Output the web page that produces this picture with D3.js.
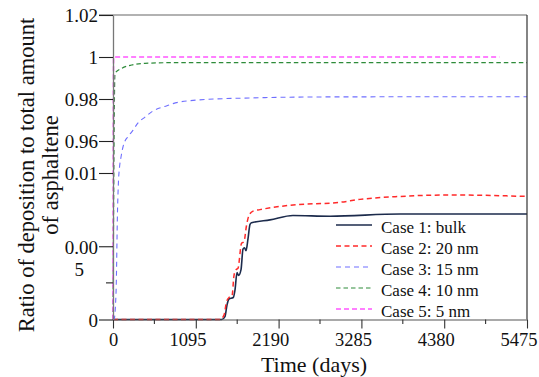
<!DOCTYPE html>
<html>
<head>
<meta charset="utf-8">
<script src="https://d3js.org/d3.v7.min.js"></script>
<style>
  body { margin: 0; background: #fff; }
</style>
</head>
<body>
<svg width="539" height="377" font-family="'Liberation Serif', 'DejaVu Serif', serif"></svg>
<script>
// axis ticks
var xTicks = [0, 1095, 2190, 3285, 4380, 5475];
var xMinor = [547.5, 1642.5, 2737.5, 3832.5, 4927.5];
var yTicks = [0, 0.005, 0.01, 0.96, 0.98, 1, 1.02];
var yTickLabels = ["0", "0.00|5", "0.01", "0.96", "0.98", "1", "1.02"];
var yMinor = [0.0025];

// series (time in days, ratio)
var case1T = [0, 1437, 1481, 1508, 1534, 1591, 1613, 1640, 1660, 1693, 1719, 1739, 1759, 1785, 1812, 1832, 2076, 2380, 2870, 3796, 5475];
var case1V = [0, 0, 0.0002, 0.0010, 0.0014, 0.0015, 0.0020, 0.0032, 0.0030, 0.0034, 0.0048, 0.0049, 0.0047, 0.0055, 0.0065, 0.0066, 0.0068, 0.0071, 0.00705, 0.0072, 0.0072];

var case2T = [0, 1415, 1468, 1501, 1534, 1574, 1600, 1627, 1653, 1700, 1732, 1765, 1798, 1852, 1944, 2341, 3002, 3267, 3796, 4457, 5475];
var case2V = [0, 0, 0.0003, 0.0012, 0.0015, 0.0016, 0.0030, 0.0034, 0.0035, 0.0052, 0.0053, 0.0064, 0.0071, 0.0074, 0.0075, 0.0078, 0.0080, 0.0082, 0.0084, 0.0085, 0.0084];

var case3T = [0, 13, 40, 60, 73, 86, 106, 132, 159, 198, 265, 331, 423, 516, 714, 794, 1111, 1812, 2870, 5475];
var case3V = [0, 0, 0.0018, 0.0075, 0.0095, 0.178, 0.485, 0.782, 0.96, 0.962, 0.9652, 0.9686, 0.9714, 0.974, 0.9768, 0.9778, 0.9795, 0.9805, 0.981, 0.9811];

var case4T = [0, 26, 115, 247, 423, 794, 5475];
var case4V = [0, 0.9922, 0.9946, 0.9962, 0.9970, 0.9973, 0.9973];

var case5T = [0, 8, 5110];
var case5V = [0, 1, 1];

var names = ["Case 1: bulk", "Case 2: 20 nm", "Case 3: 15 nm", "Case 4: 10 nm", "Case 5: 5 nm"];

var FONT = "'Liberation Serif', 'DejaVu Serif', serif";

var svg = d3.select("svg");

var x = d3.scaleLinear().domain([0, 5475]).range([113, 527]);
// broken axis: 0..0.01 stretched, 0.01..0.96 squeezed
var y = d3.scaleLinear().domain([0, 0.01, 0.96, 1.02]).range([319.5, 173, 141, 15]);

var series = [
  {t: case1T, v: case1V, color: "#1c2b4c", width: 1.6, dash: null},
  {t: case2T, v: case2V, color: "#ff2a2a", width: 1.5, dash: "5,3.5"},
  {t: case3T, v: case3V, color: "#6f6fff", width: 1.1, dash: "5,4"},
  {t: case4T, v: case4V, color: "#2e8b3a", width: 1.2, dash: "4.5,3"},
  {t: case5T, v: case5V, color: "#ff55ff", width: 1.6, dash: "5,3"}
];

var line = d3.line()
    .x(function(d) { return x(d[0]); })
    .y(function(d) { return y(d[1]); })
    .curve(d3.curveMonotoneX);

series.forEach(function(s) {
  var pts = s.t.map(function(t, i) { return [t, s.v[i]]; });
  svg.append("path")
      .datum(pts)
      .attr("fill", "none")
      .attr("stroke", s.color)
      .attr("stroke-width", s.width)
      .attr("stroke-dasharray", s.dash)
      .attr("d", line);
});

// frame
svg.append("line").attr("x1", 99).attr("x2", 527).attr("y1", 15).attr("y2", 15)
    .attr("stroke", "#666").attr("stroke-width", 1.2);
svg.append("line").attr("x1", 527).attr("x2", 527).attr("y1", 15).attr("y2", 319.5)
    .attr("stroke", "#333").attr("stroke-width", 1.2);

// x axis
var xAxis = svg.append("g")
    .attr("transform", "translate(0,319.5)")
    .call(d3.axisBottom(x).tickValues(xTicks).tickSize(9).tickSizeOuter(0).tickFormat(d3.format("d")));
xAxis.attr("font-family", FONT);
xAxis.select(".domain").attr("stroke", "#555").attr("stroke-width", 1.2);
xAxis.selectAll(".tick line").attr("stroke", "#333").attr("stroke-width", 1.1);
xAxis.selectAll(".tick text")
    .attr("font-size", 18.5)
    .attr("fill", "#111")
    .attr("y", 13)
    .attr("dy", "0.71em")
    .attr("dx", function(d) { return -(String(d).length - 1) * 2.8; });

xAxis.selectAll(".minor").data(xMinor).enter().append("line")
    .attr("class", "minor")
    .attr("x1", function(d) { return x(d); }).attr("x2", function(d) { return x(d); })
    .attr("y1", 0).attr("y2", 4.5)
    .attr("stroke", "#333").attr("stroke-width", 1.1);

// y axis
var yAxis = svg.append("g")
    .attr("transform", "translate(113,0)")
    .call(d3.axisLeft(y).tickValues(yTicks).tickSize(14).tickSizeOuter(0)
      .tickFormat(function(d, i) { return yTickLabels[i]; }));
yAxis.attr("font-family", FONT);
yAxis.select(".domain").attr("stroke", "#777").attr("stroke-width", 1.3);
yAxis.selectAll(".tick line").attr("stroke", "#222").attr("stroke-width", 1.1);
yAxis.selectAll(".tick text")
    .attr("font-size", 19)
    .attr("fill", "#111")
    .attr("x", -15)
    .attr("dy", "0.36em")
    .each(function(d, i) {
      var parts = yTickLabels[i].split("|");
      if (parts.length > 1) {
        var t = d3.select(this).text(null);
        t.append("tspan").attr("x", -15).text(parts[0]);
        t.append("tspan").attr("x", -29).attr("dy", 22).text(parts[1]);
      }
    });

yAxis.selectAll(".minor").data(yMinor).enter().append("line")
    .attr("class", "minor")
    .attr("x1", -7).attr("x2", 0)
    .attr("y1", function(d) { return y(d); }).attr("y2", function(d) { return y(d); })
    .attr("stroke", "#222").attr("stroke-width", 1.1);

// axis titles
svg.append("text")
    .attr("x", 314).attr("y", 372)
    .attr("text-anchor", "middle")
    .attr("font-size", 22)
    .attr("fill", "#111")
    .text("Time (days)");

var ylab = svg.append("text")
    .attr("transform", "translate(34,175) rotate(-90)")
    .attr("text-anchor", "middle")
    .attr("font-size", 22.5)
    .attr("fill", "#111");
ylab.append("tspan").attr("x", 0).attr("y", 0).text("Ratio of deposition to total amount");
ylab.append("tspan").attr("x", 0).attr("y", 24).text("of asphaltene");

// legend
var legend = svg.append("g").attr("transform", "translate(336,225)");
series.forEach(function(s, i) {
  var row = legend.append("g").attr("transform", "translate(0," + (i * 21) + ")");
  row.append("line")
      .attr("x1", 0).attr("x2", 36).attr("y1", 0).attr("y2", 0)
      .attr("stroke", s.color)
      .attr("stroke-width", s.width)
      .attr("stroke-dasharray", s.dash);
  row.append("text")
      .attr("x", 45).attr("y", 0).attr("dy", 7.5)
      .attr("font-size", 17)
      .attr("fill", "#111")
      .text(names[i]);
});
</script>
</body>
</html>
